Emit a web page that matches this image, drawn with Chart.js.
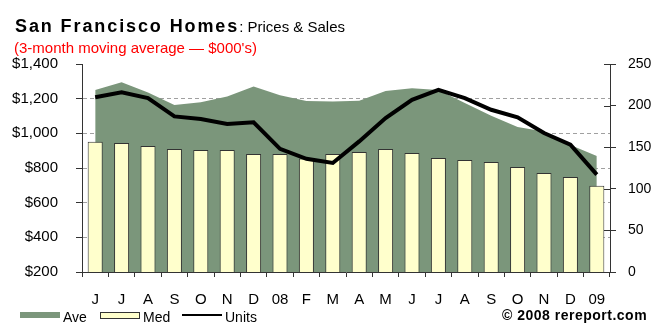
<!DOCTYPE html>
<html>
<head>
<meta charset="utf-8">
<script src="https://cdn.jsdelivr.net/npm/chart.js@4.4.1/dist/chart.umd.min.js"></script>
<style>
  body { margin: 0; background: #fff; font-family: Arial, "Liberation Sans", sans-serif; }
  #wrap { position: relative; width: 668px; height: 333px; overflow: hidden; }
  #grafico { position: absolute; left: 0; top: 0; }
  .txt { position: absolute; white-space: nowrap; color: #000; }
  #titulo { left: 15px; top: 16px; font-size: 18px; font-weight: bold; letter-spacing: 1.9px; }
  #titulo span { font-size: 15px; font-weight: normal; letter-spacing: 0; }
  #subtitulo { left: 14px; top: 39px; font-size: 15px; color: #f00; }
  .swatch { position: absolute; box-sizing: border-box; }
  .leg { font-size: 14px; top: 309px; }
  #copy { left: 502px; top: 307px; font-size: 14px; font-weight: bold; letter-spacing: 0.5px; }
</style>
</head>
<body>
<div id="wrap">
  <canvas id="grafico" width="668" height="333"></canvas>
  <div class="txt" id="titulo">San Francisco Homes<span>: Prices &amp; Sales</span></div>
  <div class="txt" id="subtitulo">(3-month moving average — $000's)</div>

  <div class="swatch" style="left:20px;top:312px;width:40px;height:6px;background:#7b967b;"></div>
  <div class="txt leg" style="left:63px;">Ave</div>
  <div class="swatch" style="left:100px;top:312px;width:40px;height:7px;background:#ffffcc;border:1px solid #333;"></div>
  <div class="txt leg" style="left:143px;">Med</div>
  <div class="swatch" style="left:182px;top:314px;width:40px;height:2px;background:#000;"></div>
  <div class="txt leg" style="left:225px;">Units</div>
  <div class="txt" id="copy">© 2008 rereport.com</div>
</div>

<script>
// meses (jun/2007 a jan/2009)
const meses = ['J', 'J', 'A', 'S', 'O', 'N', 'D', '08', 'F', 'M', 'A', 'M', 'J', 'J', 'A', 'S', 'O', 'N', 'D', '09'];

// preço médio (Ave) e mediano (Med), em $000
const precoMedio = [1250, 1295, 1235, 1163, 1179, 1212, 1270, 1220, 1187, 1183, 1188, 1244, 1260, 1250, 1175, 1101, 1037, 1010, 933, 869];
const precoMediano = [952, 944, 927, 910, 904, 904, 881, 881, 855, 881, 892, 910, 887, 858, 846, 835, 806, 771, 748, 698];

// vendas (Units)
const unidades = [210, 216, 209, 187, 184, 178, 180, 148, 136, 131, 157, 185, 207, 219, 209, 195, 186, 167, 153, 117];

// marcas dos eixos
const ticksPreco = [200, 400, 600, 800, 1000, 1200, 1400];
const ticksUnidades = [0, 50, 100, 150, 200, 250];

const fonteEixo = { family: 'Arial, "Liberation Sans", sans-serif', size: 15 };

function formatarPreco(v) {
    return '$' + v.toLocaleString('en-US');
}

// marcas do eixo da direita atravessam a linha do eixo (parte interna)
const marcasInternas = {
    id: 'marcasInternas',
    afterDraw(chart) {
        const escala = chart.scales.yUnidades;
        const ctx = chart.ctx;
        ctx.save();
        ctx.strokeStyle = '#333';
        ctx.lineWidth = 1;
        ctx.beginPath();
        escala.ticks.forEach(t => {
            const y = Math.round(escala.getPixelForValue(t.value)) + 0.5;
            ctx.moveTo(escala.left - 6, y);
            ctx.lineTo(escala.left, y);
        });
        ctx.stroke();
        ctx.restore();
    }
};

new Chart(document.getElementById('grafico').getContext('2d'), {
    data: {
        labels: meses,
        datasets: [
            {
                type: 'line',
                label: 'Ave',
                data: precoMedio,
                yAxisID: 'yPreco',
                borderWidth: 0,
                backgroundColor: '#7b967b',
                fill: 'start',
                pointRadius: 0,
                tension: 0,
                order: 3
            },
            {
                type: 'bar',
                label: 'Med',
                data: precoMediano,
                yAxisID: 'yPreco',
                backgroundColor: '#ffffcc',
                borderColor: '#333',
                borderWidth: 1,
                barPercentage: 0.57,
                categoryPercentage: 1,
                order: 2
            },
            {
                type: 'line',
                label: 'Units',
                data: unidades,
                yAxisID: 'yUnidades',
                borderColor: '#000',
                borderWidth: 4,
                fill: false,
                pointRadius: 0,
                tension: 0,
                order: 1
            }
        ]
    },
    options: {
        responsive: false,
        animation: false,
        layout: { padding: { top: 64, left: 0, right: 0, bottom: 0 } },
        plugins: {
            legend: { display: false },
            title: { display: false },
            tooltip: { enabled: false }
        },
        scales: {
            x: {
                offset: true,
                grid: { offset: true, drawOnChartArea: false, color: '#333', tickLength: 5 },
                border: { color: '#333' },
                ticks: { color: '#000', font: fonteEixo, padding: 14, maxRotation: 0, autoSkip: false },
                afterFit: function (scale) { scale.height = 61; }
            },
            yPreco: {
                position: 'left',
                min: 200,
                max: 1400,
                afterBuildTicks: function (scale) { scale.ticks = ticksPreco.map(v => ({ value: v })); },
                grid: {
                    color: ctx => (ctx.tick && (ctx.tick.value === 200 || ctx.tick.value === 1400)) ? 'rgba(0,0,0,0)' : '#a0a0a0',
                    tickColor: '#333',
                    tickLength: 6
                },
                border: { color: '#333', dash: [4, 3] },
                ticks: { color: '#000', font: fonteEixo, padding: 18, callback: v => formatarPreco(v) },
                afterFit: function (scale) { scale.width = 82; }
            },
            yUnidades: {
                position: 'right',
                min: 0,
                max: 250,
                afterBuildTicks: function (scale) { scale.ticks = ticksUnidades.map(v => ({ value: v })); },
                grid: { drawOnChartArea: false, color: '#333', tickLength: 6 },
                border: { color: '#333' },
                ticks: { color: '#000', font: { family: fonteEixo.family, size: 14 }, padding: 12 },
                afterFit: function (scale) { scale.width = 58; }
            }
        }
    },
    plugins: [marcasInternas]
});
</script>
</body>
</html>
